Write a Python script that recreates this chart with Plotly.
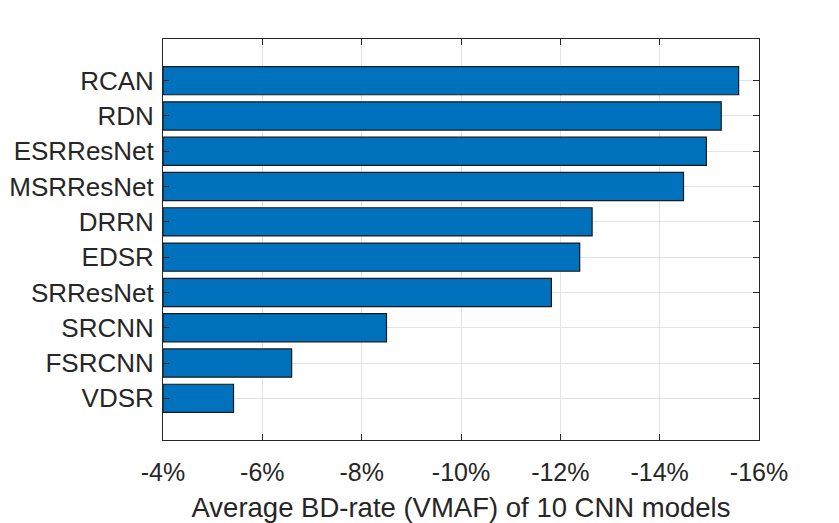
import plotly.graph_objects as go

models = ["VDSR", "FSRCNN", "SRCNN", "SRResNet", "EDSR", "DRRN",
          "MSRResNet", "ESRResNet", "RDN", "RCAN"]
bd_rate = [-5.42, -6.59, -8.50, -11.82, -12.39, -12.64,
           -14.48, -14.94, -15.24, -15.59]
x_tick_vals = [-4, -6, -8, -10, -12, -14, -16]
x_tick_text = ["-4%", "-6%", "-8%", "-10%", "-12%", "-14%", "-16%"]
x_title = "Average BD-rate (VMAF) of 10 CNN models"

base_val = -4
dark = "#262626"
font_family = "Liberation Sans, Arial, Helvetica, sans-serif"

fig = go.Figure(go.Bar(
    y=models,
    x=[v - base_val for v in bd_rate],
    base=base_val,
    orientation="h",
    width=0.8,
    marker=dict(color="#0072BD", line=dict(color="#1a1a1a", width=1.2)),
))

fig.update_layout(
    width=831, height=515,
    margin=dict(l=155, r=80, t=31, b=83),
    paper_bgcolor="white", plot_bgcolor="white",
    showlegend=False,
    font=dict(family=font_family, color=dark, size=26),
)
fig.update_xaxes(
    range=[-4, -16],
    tickvals=x_tick_vals, ticktext=x_tick_text,
    ticks="inside", ticklen=6, tickwidth=1, tickcolor=dark,
    showline=True, linecolor=dark, linewidth=1, mirror="ticks",
    showgrid=True, gridcolor="#e3e3e3", gridwidth=1,
    zeroline=False, automargin=False,
    tickfont=dict(size=25, color=dark),
    ticklabelstandoff=10,
    title=dict(text=x_title, font=dict(size=27.5, color=dark), standoff=24),
)
fig.update_yaxes(
    type="category", categoryorder="array", categoryarray=models,
    range=[-1.18, 10.18],
    ticks="inside", ticklen=6, tickwidth=1, tickcolor=dark,
    showline=True, linecolor=dark, linewidth=1, mirror="ticks",
    showgrid=True, gridcolor="#e3e3e3", gridwidth=1,
    zeroline=False, automargin=False,
    tickfont=dict(size=26, color=dark),
    ticklabelstandoff=3,
)

fig.write_html("out.html")
